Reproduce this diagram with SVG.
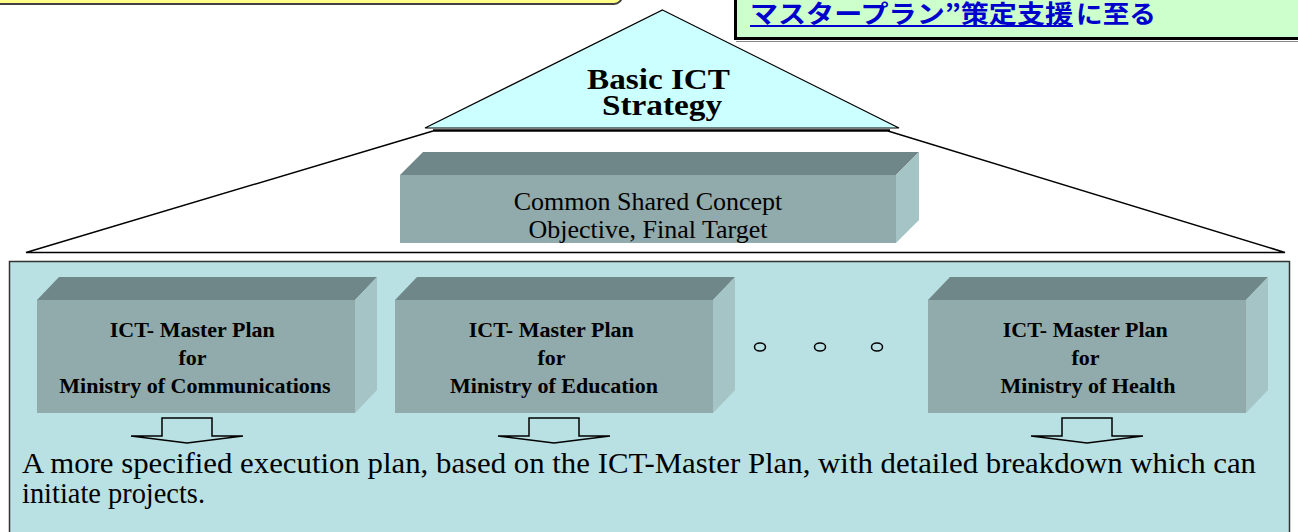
<svg xmlns="http://www.w3.org/2000/svg" width="1298" height="532" viewBox="0 0 1298 532">
  <style>
    .serif { font-family: "Liberation Serif", "Times New Roman", serif; fill: #000; }
    .bold { font-weight: bold; }
    .top { fill: #6F8788; }
    .front { fill: #91AAAB; }
    .side { fill: #A5C4C6; }
    .conn { fill: none; stroke: #000; stroke-width: 1.5; }
    .arrow { fill: #B9E0E3; stroke: #000; stroke-width: 1.5; stroke-linejoin: miter; }
    .dot { fill: none; stroke: #000; stroke-width: 1.5; }
    .jp { font-family: "Noto Sans CJK JP", "Noto Sans CJK SC", sans-serif; font-weight: bold; fill: #0000CC; }
  </style>

  <rect width="1298" height="532" fill="#FFFFFF"/>

  <!-- top-left yellow box (cut off) -->
  <g id="banner-yellow">
    <rect x="-10" y="-20" width="632" height="24" rx="8" fill="#FFFF88" stroke="#404040" stroke-width="2"/>
  </g>

  <!-- top-right green box (cut off) -->
  <g id="banner-green">
    <rect x="735.5" y="-10" width="600" height="48.5" fill="#CCFFCC" stroke="#000" stroke-width="3"/>
    <line x1="736" y1="41.5" x2="1298" y2="41.5" stroke="#888" stroke-width="1"/>
    <text class="jp" x="750" y="23" font-size="25"><tspan textLength="323" lengthAdjust="spacingAndGlyphs">マスタープラン”策定支援</tspan><tspan x="1076" textLength="80" lengthAdjust="spacingAndGlyphs">に至る</tspan></text>
    <line x1="750" y1="26" x2="1073" y2="26" stroke="#0000CC" stroke-width="2"/>
  </g>

  <!-- lower panel -->
  <g id="panel">
    <rect x="9.5" y="261.5" width="1280" height="300" fill="#B9E0E3" stroke="#333" stroke-width="1.5"/>
  </g>

  <!-- connectors -->
  <g id="connectors">
    <polyline class="conn" points="433,131 26,252.5 1285,252.5 888,131" stroke-width="2"/>
    <path class="arrow" d="M162,418 H212 V436 H243 L187,443 L131,436 H162 Z"/>
    <path class="arrow" d="M529,418 H579 V436 H610 L554,443 L498,436 H529 Z"/>
    <path class="arrow" d="M1062,418 H1112 V436 H1143 L1087,443 L1031,436 H1062 Z"/>
  </g>

  <!-- Basic ICT Strategy triangle -->
  <g id="node-strategy">
    <line x1="433" y1="130.5" x2="890" y2="130.5" stroke="#000" stroke-width="2.5"/>
    <polygon points="662.5,10 899,128 425,128" fill="#CCFFFF" stroke="#000" stroke-width="1.2"/>
    <text class="serif bold" x="658.5" y="89" font-size="30" text-anchor="middle" textLength="143" lengthAdjust="spacingAndGlyphs">Basic ICT</text>
    <text class="serif bold" x="662" y="115" font-size="30" text-anchor="middle" textLength="120" lengthAdjust="spacingAndGlyphs">Strategy</text>
  </g>

  <!-- Common Shared Concept box -->
  <g id="node-common">
    <polygon class="top" points="400,175 423,152 919,152 896,175"/>
    <polygon class="side" points="896,175 919,152 919,220 896,243"/>
    <rect class="front" x="400" y="175" width="496" height="68"/>
    <text class="serif" x="648" y="210" font-size="26" text-anchor="middle">Common Shared Concept</text>
    <text class="serif" x="648" y="238" font-size="26" text-anchor="middle">Objective, Final Target</text>
  </g>

  <!-- Master plan boxes -->
  <g id="node-mp-communications">
    <polygon class="top" points="37,300 59,277 377,277 355,300"/>
    <polygon class="side" points="355,300 377,277 377,390 355,413"/>
    <rect class="front" x="37" y="300" width="318" height="113"/>
    <text class="serif bold" font-size="22" text-anchor="middle">
      <tspan x="195" y="337">ICT- Master Plan</tspan>
      <tspan x="195" y="365">for</tspan>
      <tspan x="195" y="393">Ministry of Communications</tspan>
    </text>
  </g>

  <g id="node-mp-education">
    <polygon class="top" points="395,300 417,277 735,277 713,300"/>
    <polygon class="side" points="713,300 735,277 735,390 713,413"/>
    <rect class="front" x="395" y="300" width="318" height="113"/>
    <text class="serif bold" font-size="22" text-anchor="middle">
      <tspan x="554" y="337">ICT- Master Plan</tspan>
      <tspan x="554" y="365">for</tspan>
      <tspan x="554" y="393">Ministry of Education</tspan>
    </text>
  </g>

  <g id="node-mp-health">
    <polygon class="top" points="928,300 950,277 1268,277 1246,300"/>
    <polygon class="side" points="1246,300 1268,277 1268,390 1246,413"/>
    <rect class="front" x="928" y="300" width="318" height="113"/>
    <text class="serif bold" font-size="22" text-anchor="middle">
      <tspan x="1088" y="337">ICT- Master Plan</tspan>
      <tspan x="1088" y="365">for</tspan>
      <tspan x="1088" y="393">Ministry of Health</tspan>
    </text>
  </g>

  <!-- ellipsis circles -->
  <g id="ellipsis">
    <ellipse class="dot" cx="760" cy="347" rx="5.5" ry="4"/>
    <ellipse class="dot" cx="820" cy="347" rx="5.5" ry="4"/>
    <ellipse class="dot" cx="877" cy="347" rx="5.5" ry="4"/>
  </g>

  <!-- description -->
  <g id="description">
    <text class="serif" x="22" y="473" font-size="30" textLength="1234" lengthAdjust="spacingAndGlyphs">A more specified execution plan, based on the ICT-Master Plan, with detailed breakdown which can</text>
    <text class="serif" x="22" y="503" font-size="30" textLength="183" lengthAdjust="spacingAndGlyphs">initiate projects.</text>
  </g>
</svg>
